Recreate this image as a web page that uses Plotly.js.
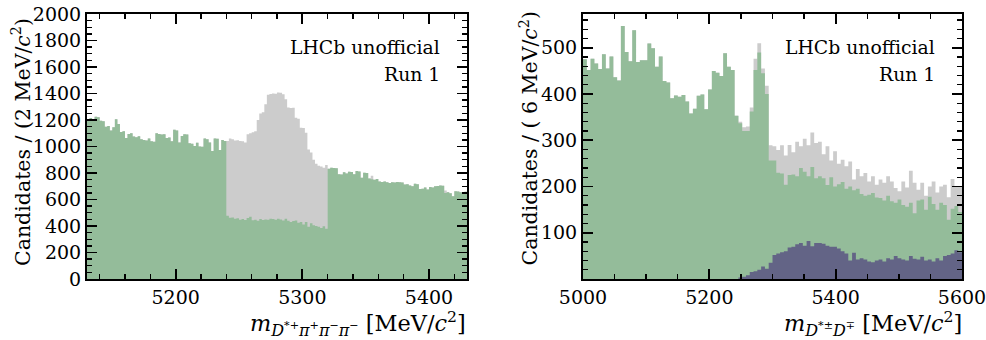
<!DOCTYPE html>
<html>
<head>
<meta charset="utf-8">
<script src="https://cdn.plot.ly/plotly-3.0.1.min.js"></script>
<style>html,body{margin:0;padding:0;background:#fff;}#chart{width:986px;height:340px;}</style>
</head>
<body>
<div id="chart"></div>
<script>
// ---------- Left panel: m(D*+ pi+ pi- pi-), 2 MeV bins from 5130 ----------
const leftStart = 5130;
const leftBinWidth = 2;
const leftTotal = [
  1205,1215,1200,1225,1220,1195,1190,1150,1155,1120,
  1145,1205,1170,1110,1115,1065,1095,1100,1075,1070,
  1078,1055,1050,1045,1060,1040,1035,1100,1095,1090,
  1092,1065,1068,1040,1127,1120,1030,1080,1092,1090,
  1024,1020,1003,1029,1000,998,1060,1055,1030,966,
  1060,1058,973,1049,1041,
  1041,1060,1055,1045,1048,1042,1040,1030,1092,1100,
  1108,1115,1200,1250,1258,1318,1390,1396,1400,1398,
  1407,1405,1394,1356,1295,1290,1293,1217,1210,1142,
  1140,1104,978,955,900,870,855,850,840,860,
  832,840,838,835,790,788,806,796,810,808,
  790,815,812,764,802,800,758,780,750,755,
  735,733,735,730,725,730,728,733,730,728,
  713,715,705,700,718,716,680,682,690,675,
  695,690,700,702,705,703,668,655,648,625,
  663,660,655,650,658
];
const leftGreen = [
  1205,1215,1200,1225,1220,1195,1190,1150,1155,1120,
  1145,1205,1170,1110,1115,1065,1095,1100,1075,1070,
  1078,1055,1050,1045,1060,1040,1035,1100,1095,1090,
  1092,1065,1068,1040,1127,1120,1030,1080,1092,1090,
  1024,1020,1003,1029,1000,998,1060,1055,1030,966,
  1060,1058,973,1049,1041,
  478,462,465,455,458,448,452,445,460,470,
  443,448,440,452,445,450,448,455,452,447,
  455,450,442,455,440,430,438,442,425,430,
  412,430,395,420,405,400,395,385,398,380,
  832,840,838,835,790,788,806,796,810,808,
  790,815,812,764,802,800,758,752,750,755,
  735,733,735,730,725,730,728,733,730,728,
  713,715,705,700,718,716,680,682,690,675,
  695,690,700,702,705,703,650,655,648,625,
  663,660,655,650,658
];
const leftYTicks = [0,200,400,600,800,1000,1200,1400,1600,1800,2000];
const leftXTicks = [5200,5300,5400];

// ---------- Right panel: m(D*± D∓), 6 MeV bins from 5000 ----------
const rightStart = 5000;
const rightBinWidth = 6;
const rightTotal = [
  475,452,476,466,454,486,455,481,436,429,
  547,491,471,538,469,473,473,509,499,459,
  481,428,425,391,397,394,398,384,358,368,
  396,399,367,410,450,446,439,488,459,452,
  353,340,328,330,371,476,510,455,418,289,
  287,279,289,267,290,274,297,287,303,289,
  317,294,297,270,287,256,276,249,258,244,
  254,215,238,222,229,211,222,204,215,208,
  222,211,197,190,211,198,234,208,193,208,
  180,200,211,187,200,204,177,216,200,200
];
const rightGreen = [
  475,452,476,466,454,486,455,481,436,429,
  547,491,471,538,469,473,473,509,499,459,
  481,428,425,391,397,394,398,384,358,368,
  396,399,367,410,450,446,439,488,459,452,
  353,337,320,320,362,452,490,445,400,256,
  256,230,228,204,225,226,222,240,232,222,
  242,218,222,218,203,220,200,205,210,195,
  200,192,195,184,180,182,186,176,175,170,
  180,168,165,172,160,156,165,142,170,172,
  150,178,162,150,165,160,128,152,158,145
];
const rightBlue = [
  0,0,0,0,0,0,0,0,0,0,
  0,0,0,0,0,0,0,0,0,0,
  0,0,0,0,0,0,0,0,0,0,
  0,0,0,0,0,0,0,0,0,0,
  0,3,5,8,15,17,20,27,22,35,
  52,55,58,60,68,70,75,78,72,82,
  71,78,78,76,72,70,70,66,60,55,
  40,57,42,45,42,38,36,40,42,38,
  45,42,50,45,42,40,50,44,42,48,
  40,42,38,45,40,50,52,55,62,58
];
const rightYTicks = [100,200,300,400,500];
const rightXTicks = [5000,5200,5400,5600];

const GREY = '#cccccc', GREEN = '#94bc9a', BLUE = '#636486';
const FONT = 'DejaVu Serif, serif';

function stepTrace(start, width, vals, color, xa, ya) {
  const x = [], y = [];
  for (let i = 0; i < vals.length; i++) { x.push(start + i * width); y.push(vals[i]); }
  x.push(start + vals.length * width); y.push(vals[vals.length - 1]);
  return {
    type: 'scatter', mode: 'lines', x: x, y: y, xaxis: xa, yaxis: ya,
    line: {shape: 'hv', width: 0, color: color},
    fill: 'tozeroy', fillcolor: color, hoverinfo: 'skip', showlegend: false
  };
}

const traces = [
  stepTrace(leftStart, leftBinWidth, leftTotal, GREY, 'x', 'y'),
  stepTrace(leftStart, leftBinWidth, leftGreen, GREEN, 'x', 'y'),
  stepTrace(rightStart, rightBinWidth, rightTotal, GREY, 'x2', 'y2'),
  stepTrace(rightStart, rightBinWidth, rightGreen, GREEN, 'x2', 'y2'),
  stepTrace(rightStart, rightBinWidth, rightBlue, BLUE, 'x2', 'y2')
];

function axisBase(extra) {
  return Object.assign({
    showline: true, linecolor: '#000', linewidth: 2, mirror: 'allticks',
    ticks: 'inside', ticklen: 10, tickwidth: 1.8, tickcolor: '#000',
    showgrid: false, zeroline: false, tickmode: 'array',
    ticklabeloverflow: 'allow',
    tickfont: {family: FONT, size: 19, color: '#000'}
  }, extra);
}

const W = 986, H = 340;
const px = v => v / W, py = v => 1 - v / H;
const SUBSZ = 'font-size:16px';

const layout = {
  width: W, height: H,
  margin: {l: 0, r: 0, t: 0, b: 0},
  paper_bgcolor: '#fff', plot_bgcolor: '#fff',
  showlegend: false,
  xaxis: axisBase({domain: [px(87), px(467)], range: [5130, 5430], tickvals: leftXTicks,
    minor: {ticks: 'inside', ticklen: 5, tickwidth: 1.4, tickcolor: '#000', dtick: 20, tick0: 0}, anchor: 'y'}),
  yaxis: axisBase({domain: [1 - 279/H, 1 - 14/H], range: [0, 2000], tickvals: leftYTicks,
    minor: {ticks: 'inside', ticklen: 5, tickwidth: 1.4, tickcolor: '#000', dtick: 50, tick0: 0}, anchor: 'x'}),
  xaxis2: axisBase({domain: [px(583), px(962)], range: [5000, 5600], tickvals: rightXTicks,
    minor: {ticks: 'inside', ticklen: 5, tickwidth: 1.4, tickcolor: '#000', dtick: 50, tick0: 0}, anchor: 'y2'}),
  yaxis2: axisBase({domain: [1 - 279/H, 1 - 14/H], range: [0, 573], tickvals: rightYTicks,
    minor: {ticks: 'inside', ticklen: 5, tickwidth: 1.4, tickcolor: '#000', dtick: 20, tick0: 0}, anchor: 'x2'}),
  annotations: [
    {xref: 'paper', yref: 'paper', x: px(442), y: py(48), xanchor: 'right', yanchor: 'middle',
     text: 'LHCb unofficial', showarrow: false, font: {family: FONT, size: 18.8, color: '#000'}},
    {xref: 'paper', yref: 'paper', x: px(442), y: py(74), xanchor: 'right', yanchor: 'middle',
     text: 'Run 1', showarrow: false, font: {family: FONT, size: 18.8, color: '#000'}},
    {xref: 'paper', yref: 'paper', x: px(937), y: py(48), xanchor: 'right', yanchor: 'middle',
     text: 'LHCb unofficial', showarrow: false, font: {family: FONT, size: 18.8, color: '#000'}},
    {xref: 'paper', yref: 'paper', x: px(937), y: py(74), xanchor: 'right', yanchor: 'middle',
     text: 'Run 1', showarrow: false, font: {family: FONT, size: 18.8, color: '#000'}},
    {xref: 'paper', yref: 'paper', x: px(21), y: py(16), xanchor: 'center', yanchor: 'top', textangle: -90,
     text: 'Candidates / (2 MeV/<i>c</i><sup>2</sup>)', showarrow: false, font: {family: FONT, size: 20.5, color: '#000'}},
    {xref: 'paper', yref: 'paper', x: px(529), y: py(9), xanchor: 'center', yanchor: 'top', textangle: -90,
     text: 'Candidates / ( 6 MeV/<i>c</i><sup>2</sup>)', showarrow: false, font: {family: FONT, size: 20.5, color: '#000'}},
    {xref: 'paper', yref: 'paper', x: px(468), y: py(323), xanchor: 'right', yanchor: 'middle',
     text: '<i>m</i><sub><span style="' + SUBSZ + '"><i>D</i><sup>*+</sup><i>π</i><sup>+</sup><i>π</i><sup>−</sup><i>π</i><sup>−</sup></span></sub> [MeV/<i>c</i><sup>2</sup>]',
     showarrow: false, font: {family: FONT, size: 22.4, color: '#000'}},
    {xref: 'paper', yref: 'paper', x: px(964), y: py(323), xanchor: 'right', yanchor: 'middle',
     text: '<i>m</i><sub><span style="' + SUBSZ + '"><i>D</i><sup>*±</sup><i>D</i><sup>∓</sup></span></sub> [MeV/<i>c</i><sup>2</sup>]',
     showarrow: false, font: {family: FONT, size: 22.4, color: '#000'}}
  ]
};

Plotly.newPlot('chart', traces, layout, {staticPlot: true, displayModeBar: false});
</script>
</body>
</html>
